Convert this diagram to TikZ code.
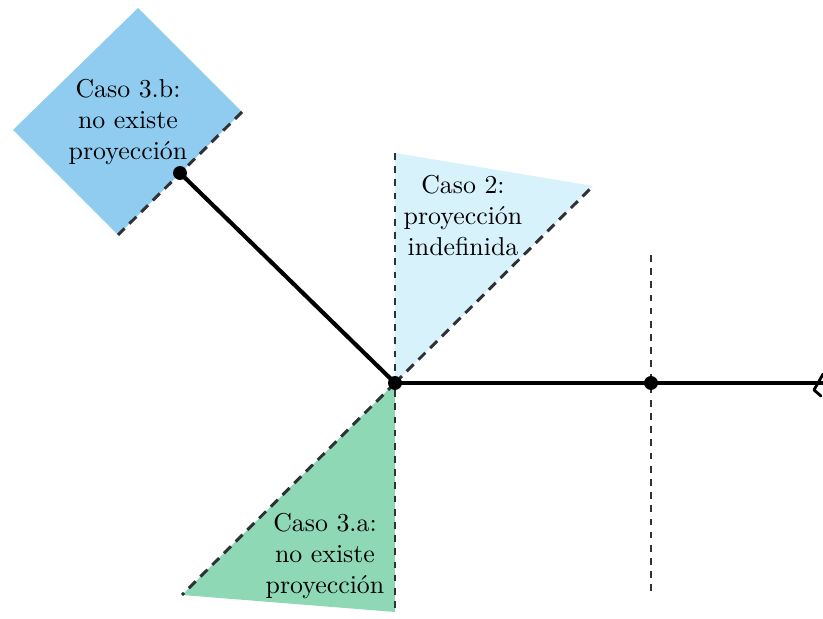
\documentclass[tikz,border=0pt]{standalone}
\usetikzlibrary{calc}
\definecolor{sqblue}{HTML}{8FCCF0}
\definecolor{lightcyan}{HTML}{D8F2FB}
\definecolor{mintgreen}{HTML}{8ED8B6}
\definecolor{dashgray}{HTML}{2E3236}
\tikzset{
  solidline/.style={line width=1.6pt, black},
  dashline/.style={line width=1.15pt, dashgray, dash pattern=on 3.8pt off 2.6pt},
  vdash/.style={line width=0.95pt, dashgray, dash pattern=on 2.6pt off 2.5pt},
  dotnode/.style={circle, fill=black, inner sep=0pt, minimum size=5.4pt},
  lbl/.style={align=center, font=\normalsize, text=black, inner sep=0pt}
}
\begin{document}
\begin{tikzpicture}[x=0.387pt, y=-0.387pt]
\useasboundingbox (0,0) rectangle (823,619);
% key points
\coordinate (O) at (395,383);
\coordinate (P) at (180,173);
\coordinate (Q) at (651,383);
\coordinate (E) at (823,383);
% square corners
\coordinate (sqT) at (138,8);
\coordinate (sqR) at (242,112);
\coordinate (sqB) at (118,235);
\coordinate (sqL) at (13,130);
% caso 2 triangle
\coordinate (c2T) at (395,153);
\coordinate (c2R) at (593,186);
% caso 3a triangle
\coordinate (c3B) at (395,612);
\coordinate (c3L) at (182,595);
% vertical line at Q
\coordinate (qT) at (651,255);
\coordinate (qB) at (651,592);

% fills
\fill[sqblue] (sqT) -- (sqR) -- (sqB) -- (sqL) -- cycle;
\fill[lightcyan] (O) -- (c2T) -- (c2R) -- cycle;
\fill[mintgreen] (O) -- (c3B) -- (c3L) -- cycle;

% dashed lines
\draw[dashline] (sqR) -- (sqB);
\draw[dashline] (O) -- (c2R);
\draw[dashline] (O) -- (c3L);
\draw[vdash] (c2T) -- (c3B);
\draw[vdash] (qT) -- (qB);

% labels
\node[lbl] (t3b) at (128,122) {Caso 3.b:\\no existe\\proyección};
\node[lbl] (t2) at (463,216) {Caso 2:\\proyección\\indefinida};
\node[lbl] (t3a) at (325,556) {Caso 3.a:\\no existe\\proyección};

% solid lines
\draw[solidline] (P) -- (O);
\draw[solidline] (O) -- (E);
\draw[line width=1.1pt, black, line join=round, line cap=round]
  (823,374) -- (818,383) -- (814,390) -- (821,396);

% dots
\node[dotnode] (dO) at (O) {};
\node[dotnode] (dP) at (P) {};
\node[dotnode] (dQ) at (Q) {};
\end{tikzpicture}
\end{document}
